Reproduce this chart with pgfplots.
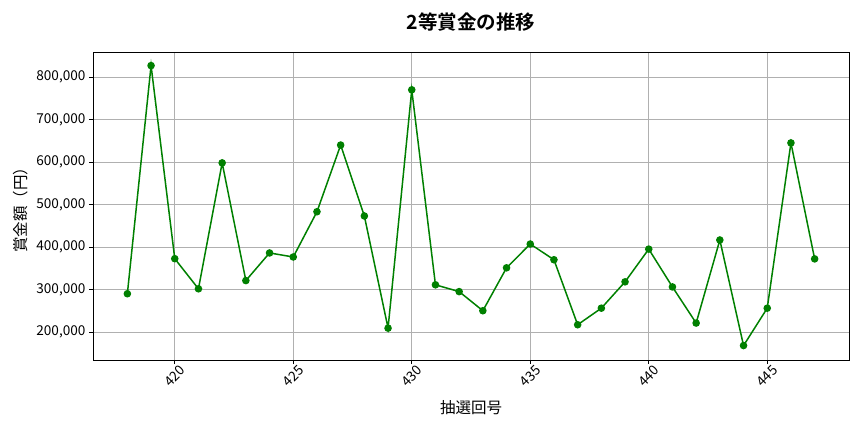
\documentclass[border=0pt]{standalone}
\usepackage{fontspec}
\setmainfont{Noto Sans CJK JP}
\newfontfamily\titlefont{Noto Sans CJK JP Bold}
\usepackage{pgfplots}
\pgfplotsset{compat=1.18}
\definecolor{mplgreen}{HTML}{008000}
\definecolor{gridgray}{HTML}{B0B0B0}

\begin{document}
\begin{tikzpicture}[x=1pt,y=1pt]
\begin{axis}[
    name=ax,
    at={(0,0)}, anchor=south west,
    scale only axis,
    width=756pt, height=308pt,
    xmin=416.55, xmax=448.45,
    ymin=134000, ymax=859000,
    xtick={420,425,...,445},
    ytick={200000,300000,...,800000},
    scaled y ticks=false,
    /pgf/number format/.cd, fixed, 1000 sep={,}, assume math mode=true,
    /pgfplots/.cd,
    yticklabel style={font=\fontsize{13.6}{15}\selectfont},
    xticklabel style={font=\fontsize{13.6}{15}\selectfont, yshift=-12pt, rotate=45, anchor=center},
    grid=major,
    major grid style={gridgray, line width=0.8pt},
    axis line style={line width=0.8pt},
    tick style={black, line width=0.8pt},
    tick align=outside,
    major tick length=4pt,
    xtick pos=bottom, ytick pos=left,
    xlabel={抽選回号},
    ylabel={賞金額（円）},
    label style={font=\fontsize{15.5}{17}\selectfont},
    xlabel style={at={(axis description cs:0.5,-0.1558)}, anchor=center},
    ylabel style={at={(axis description cs:-0.0952,0.5)}, anchor=center},
    title={\titlefont 2等賞金の推移},
    title style={font=\fontsize{19.5}{21}\selectfont, at={(axis description cs:0.5,1.078)}, anchor=center},
]
\addplot[color=mplgreen, line width=1.5pt, mark=*, mark size=3pt,
    mark options={fill=mplgreen, draw=mplgreen}] coordinates {
(418,290000)
(419,827000)
(420,372500)
(421,301600)
(422,598000)
(423,321000)
(424,386000)
(425,376500)
(426,483000)
(427,640000)
(428,473000)
(429,209000)
(430,770000)
(431,311000)
(432,295000)
(433,250000)
(434,351000)
(435,407000)
(436,370000)
(437,217000)
(438,256000)
(439,318000)
(440,395000)
(441,306000)
(442,221000)
(443,416500)
(444,168000)
(445,256000)
(446,645000)
(447,372000)
};
\end{axis}
\pgfresetboundingbox
\path (-93pt,-72pt) rectangle (771pt,360pt);
\end{tikzpicture}
\end{document}
